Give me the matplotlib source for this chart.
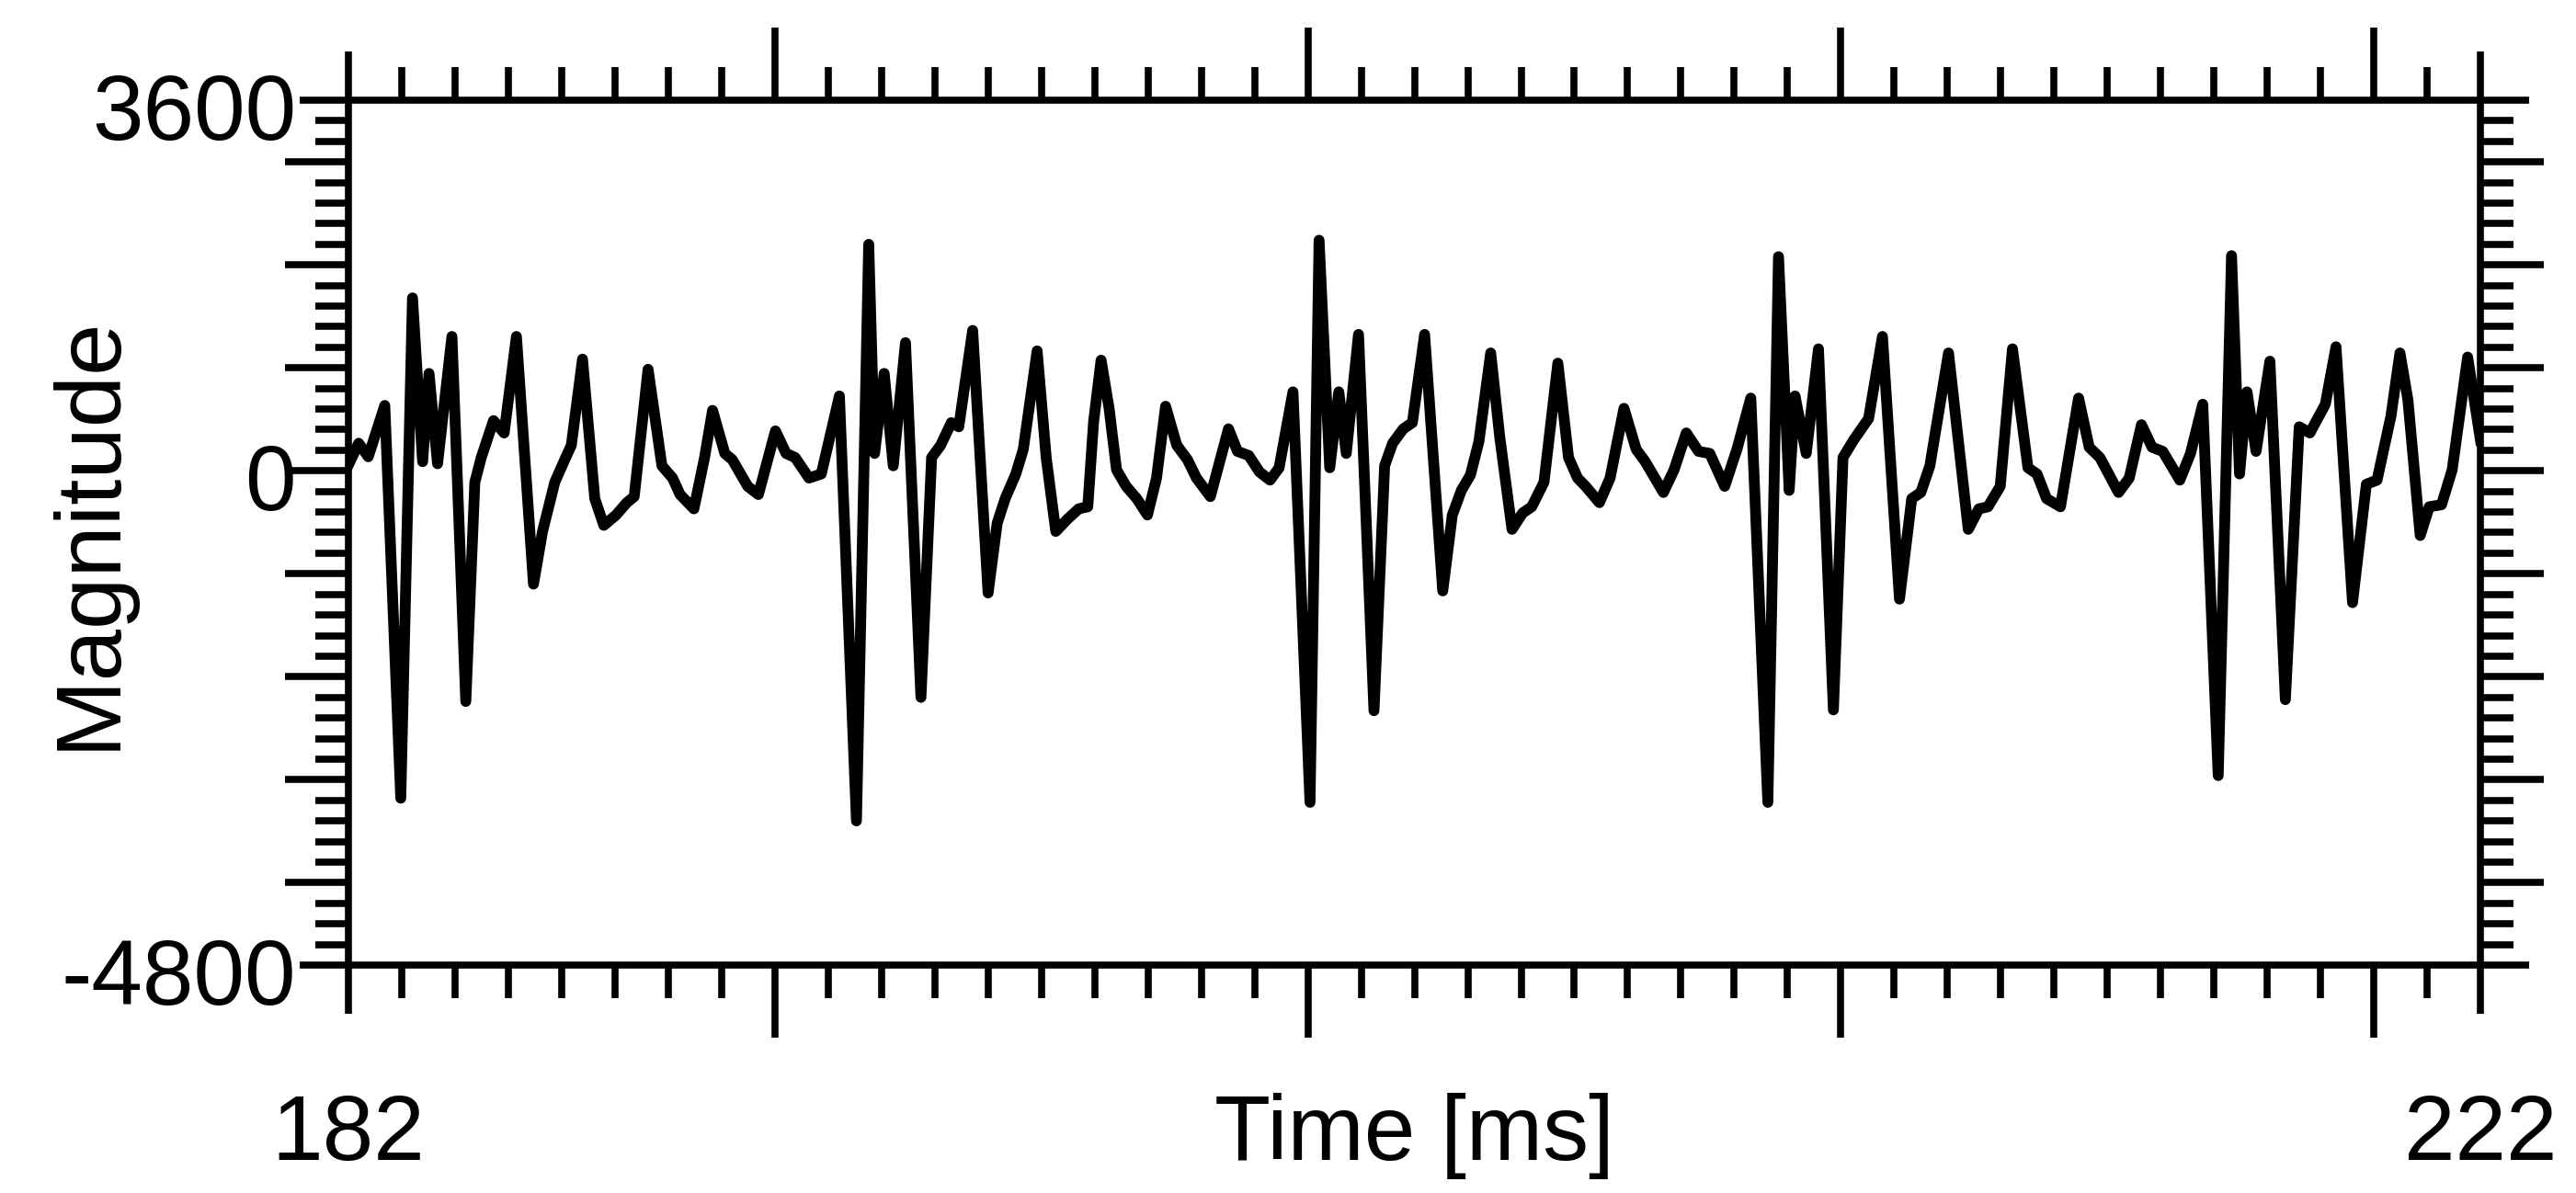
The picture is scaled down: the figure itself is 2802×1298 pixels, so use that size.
import matplotlib
matplotlib.use("Agg")
import matplotlib.pyplot as plt
from matplotlib.ticker import MultipleLocator

plt.rcParams['font.family'] = ['Liberation Sans', 'DejaVu Sans']

# waveform (time in ms, magnitude)
time_ms = [
    182.00, 182.19, 182.37, 182.68, 182.98, 183.20, 183.39, 183.51, 183.67, 183.94,
    184.20, 184.37, 184.49, 184.72, 184.92, 185.15, 185.47, 185.64, 185.87, 186.04,
    186.18, 186.39, 186.62, 186.79, 187.02, 187.22, 187.36, 187.62, 187.88, 188.08,
    188.22, 188.48, 188.68, 188.83, 189.06, 189.20, 189.49, 189.69, 190.01, 190.21,
    190.38, 190.64, 190.87, 191.21, 191.53, 191.76, 191.87, 192.05, 192.22, 192.45,
    192.74, 192.94, 193.11, 193.31, 193.45, 193.71, 194.00, 194.17, 194.32, 194.52,
    194.66, 194.92, 195.09, 195.27, 195.49, 195.70, 195.87, 195.98, 196.12, 196.27,
    196.41, 196.59, 196.79, 196.99, 197.16, 197.33, 197.54, 197.74, 197.91, 198.17,
    198.51, 198.68, 198.89, 199.09, 199.29, 199.46, 199.72, 200.04, 200.21, 200.41,
    200.58, 200.72, 200.95, 201.24, 201.44, 201.59, 201.79, 201.96, 202.19, 202.53,
    202.71, 202.88, 203.05, 203.21, 203.43, 203.60, 203.83, 204.03, 204.20, 204.43,
    204.69, 204.89, 205.06, 205.21, 205.47, 205.67, 205.93, 206.16, 206.33, 206.67,
    206.87, 207.10, 207.33, 207.54, 207.82, 208.05, 208.31, 208.63, 208.83, 209.03,
    209.14, 209.35, 209.58, 209.86, 210.04, 210.24, 210.52, 210.78, 211.10, 211.33,
    211.50, 211.67, 212.02, 212.39, 212.59, 212.76, 212.99, 213.22, 213.51, 213.68,
    213.86, 214.12, 214.46, 214.66, 214.86, 215.21, 215.41, 215.64, 215.84, 216.04,
    216.36, 216.56, 216.79, 217.08, 217.33, 217.48, 217.62, 217.79, 218.05, 218.34,
    218.60, 218.80, 219.09, 219.29, 219.60, 219.72, 219.86, 220.06, 220.32, 220.49,
    220.64, 220.87, 221.04, 221.27, 221.47, 221.76, 222.00,
]
magnitude = [
    60, 268, 137, 635, -3180, 1680, 89, 946, 69, 1305,
    -2240, -110, 129, 488, 368, 1305, -1100, -588, -110, 89,
    249, 1085, -270, -529, -429, -309, -250, 986, 49, -70,
    -230, -369, 129, 587, 169, 109, -150, -230, 388, 169,
    129, -70, -30, 727, -3400, 2200, 169, 946, 49, 1245,
    -2200, 129, 249, 468, 428, 1364, -1186, -509, -270, -30,
    209, 1165, 129, -588, -469, -369, -349, 480, 1075, 607,
    10, -150, -270, -429, -70, 627, 249, 109, -70, -250,
    408, 189, 149, -10, -90, 30, 767, -3220, 2240, 30,
    767, 169, 1325, -2330, 49, 268, 408, 468, 1325, -1166,
    -429, -190, -40, 288, 1145, 328, -568, -409, -349, -110,
    1046, 129, -70, -150, -309, -70, 607, 209, 89, -210,
    10, 368, 189, 169, -150, 209, 707, -3220, 2080, -190,
    727, 169, 1185, -2322, 129, 300, 508, 1305, -1246, -270,
    -210, 49, 1145, -568, -369, -349, -150, 1185, 30, -30,
    -270, -349, 707, 229, 129, -210, -70, 448, 229, 189,
    -90, 169, 647, -2960, 2090, -30, 767, 189, 1065, -2222,
    428, 368, 647, 1205, -1280, -748, -130, -90, 528, 1145,
    687, -628, -349, -329, 10, 1105, 300,
]

x_major = [182, 190, 200, 210, 220, 222]
y_major = [-4800, -4000, -3000, -2000, -1000, 0, 1000, 2000, 3000, 3600]
x_labels = [(182, '182'), (222, '222')]
y_labels = [(3600, '3600'), (0, '0'), (-4800, '-4800')]

fig = plt.figure(figsize=(28.02, 12.98), dpi=100)
ax = fig.add_axes([0.1353, 0.1911, 0.8276, 0.7249])

ax.plot(time_ms, magnitude, color='black', lw=8.5, solid_joinstyle='round')

ax.set_xlim(182, 222)
ax.set_ylim(-4800, 3600)

ax.set_xticks(x_major)
ax.set_yticks(y_major)
ax.xaxis.set_minor_locator(MultipleLocator(1))
ax.yaxis.set_minor_locator(MultipleLocator(200))
ax.tick_params(which='both', direction='out', top=True, right=True,
               bottom=True, left=True, labelbottom=False, labelleft=False,
               width=5.5, color='black')
ax.tick_params(axis='x', which='major', length=57)
ax.tick_params(axis='y', which='major', length=50)
ax.tick_params(which='minor', length=26)

# end ticks are a bit shorter than the decade ticks
for t, loc in zip(ax.xaxis.get_major_ticks(), x_major):
    if loc in (182, 222):
        t.tick1line.set_markersize(38)
        t.tick2line.set_markersize(38)
for t, loc in zip(ax.yaxis.get_major_ticks(), y_major):
    if loc in (3600, -4800):
        t.tick1line.set_markersize(38)
        t.tick2line.set_markersize(38)

for s in ax.spines.values():
    s.set_linewidth(5.5)

for val, txt in y_labels:
    ax.annotate(txt, xy=(0, val), xycoords=ax.get_yaxis_transform(),
                xytext=(-57, -43), textcoords='offset pixels',
                ha='right', va='baseline', fontsize=72)
for val, txt in x_labels:
    ax.annotate(txt, xy=(val, 0), xycoords=ax.get_xaxis_transform(),
                xytext=(0, -212), textcoords='offset pixels',
                ha='center', va='baseline', fontsize=72)
ax.annotate('Time [ms]', xy=(202, 0), xycoords=ax.get_xaxis_transform(),
            xytext=(0, -212), textcoords='offset pixels',
            ha='center', va='baseline', fontsize=72)
ax.text(-0.1216, 0.5, 'Magnitude', transform=ax.transAxes, rotation=90,
        ha='center', va='center', fontsize=73)

fig.savefig('out.png', dpi=100)
